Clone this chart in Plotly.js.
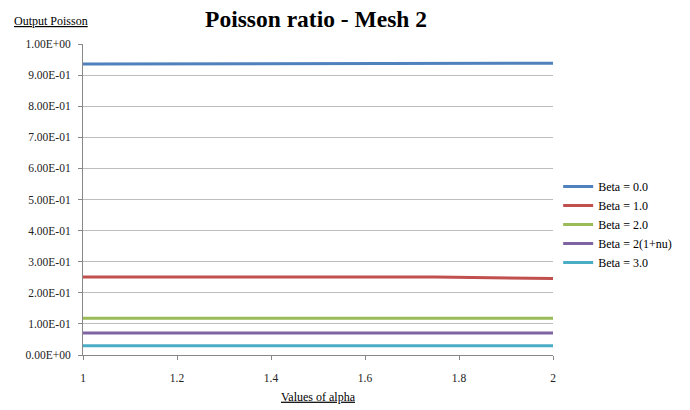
<!DOCTYPE html>
<html>
<head>
<meta charset="utf-8">
<script src="https://cdn.plot.ly/plotly-3.0.1.min.js"></script>
<style>html,body{margin:0;padding:0;background:#fff;}#chart{width:690px;height:410px;}</style>
</head>
<body>
<div id="chart"></div>
<script>
// Poisson ratio computed on mesh 2 for several beta settings, against alpha
const alpha = [1, 1.25, 1.5, 1.75, 2];
const seriesNames = ['Beta = 0.0', 'Beta = 1.0', 'Beta = 2.0', 'Beta = 2(1+nu)', 'Beta = 3.0'];
const beta00 = [0.936, 0.936, 0.938, 0.938, 0.938];
const beta10 = [0.251, 0.251, 0.251, 0.251, 0.246];
const beta20 = [0.118, 0.118, 0.118, 0.118, 0.118];
const beta2nu = [0.071, 0.071, 0.071, 0.071, 0.071];
const beta30 = [0.030, 0.030, 0.030, 0.030, 0.030];
const seriesColors = ['#4F81BD', '#C0504D', '#9BBB59', '#8064A2', '#4BACC6'];

const yTickVals = [0, 0.1, 0.2, 0.3, 0.4, 0.5, 0.6, 0.7, 0.8, 0.9, 1.0];
const yTickText = ['0.00E+00', '1.00E-01', '2.00E-01', '3.00E-01', '4.00E-01', '5.00E-01',
                   '6.00E-01', '7.00E-01', '8.00E-01', '9.00E-01', '1.00E+00'];
const xTickVals = [1, 1.2, 1.4, 1.6, 1.8, 2];
const xTickText = ['1', '1.2', '1.4', '1.6', '1.8', '2'];

const serif = 'Liberation Serif, Times New Roman, serif';
const allSeries = [beta00, beta10, beta20, beta2nu, beta30];

const traces = allSeries.map((vals, i) => ({
  x: alpha,
  y: vals,
  name: seriesNames[i],
  type: 'scatter',
  mode: 'lines',
  line: {color: seriesColors[i], width: 3}
}));

const layout = {
  width: 690,
  height: 410,
  paper_bgcolor: '#fff',
  plot_bgcolor: '#fff',
  margin: {l: 83, r: 137, t: 44, b: 55},
  font: {family: serif, size: 11, color: '#222'},
  title: {
    text: '<b>Poisson ratio - Mesh 2</b>',
    font: {family: serif, size: 23.5, color: '#000'},
    x: 0.458, xanchor: 'center', y: 0.955, yanchor: 'middle'
  },
  xaxis: {
    range: [1, 2],
    tickvals: xTickVals,
    ticktext: xTickText,
    ticks: 'outside', ticklen: 4, tickcolor: '#888',
    ticklabelstandoff: 8,
    showline: true, linecolor: '#888', linewidth: 1,
    showgrid: false, zeroline: false,
    tickfont: {family: serif, size: 11.5, color: '#222'},
    title: {text: 'Values of alpha', standoff: 9,
            font: {family: serif, size: 12, color: '#000', lineposition: 'under'}}
  },
  yaxis: {
    range: [0, 1.0],
    tickvals: yTickVals,
    ticktext: yTickText,
    ticks: 'outside', ticklen: 4, tickcolor: '#888',
    ticklabelstandoff: 5,
    showline: true, linecolor: '#888', linewidth: 1,
    showgrid: true, gridcolor: '#bdbdbd', gridwidth: 1,
    zeroline: false,
    tickfont: {family: serif, size: 11.5, color: '#222'}
  },
  legend: {
    x: 1.011, xanchor: 'left', y: 0.42, yanchor: 'middle',
    font: {family: serif, size: 12, color: '#000'},
    tracegroupgap: 0, itemwidth: 30,
    bgcolor: 'rgba(0,0,0,0)'
  },
  annotations: [{
    text: 'Output Poisson',
    xref: 'paper', yref: 'paper',
    x: -0.152, xanchor: 'left', y: 1.074, yanchor: 'middle',
    showarrow: false,
    font: {family: serif, size: 12, color: '#000', lineposition: 'under'}
  }]
};

Plotly.newPlot('chart', traces, layout, {displayModeBar: false, staticPlot: true});
</script>
</body>
</html>
